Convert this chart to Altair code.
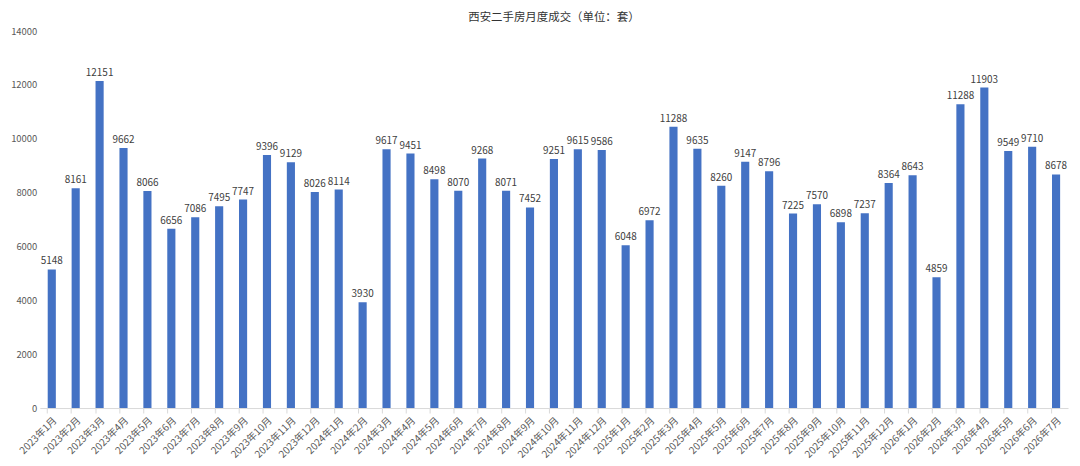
import altair as alt
import pandas as pd

months = (
    [f"2023年{m}月" for m in range(1, 13)]
    + [f"2024年{m}月" for m in range(1, 13)]
    + [f"2025年{m}月" for m in range(1, 13)]
    + [f"2026年{m}月" for m in range(1, 8)]
)
bar_values = [
    5148, 8161, 12151, 9662, 8066, 6656, 7086, 7495, 7747, 9396, 9129, 8026,
    8114, 3930, 9617, 9451, 8498, 8070, 9268, 8071, 7452, 9251, 9615, 9586,
    6048, 6972, 10450, 9635, 8260, 9147, 8796, 7225, 7570, 6898, 7237, 8364,
    8643, 4859, 11288, 11903, 9549, 9710, 8678,
]
label_texts = [
    "5148", "8161", "12151", "9662", "8066", "6656", "7086", "7495", "7747", "9396", "9129", "8026",
    "8114", "3930", "9617", "9451", "8498", "8070", "9268", "8071", "7452", "9251", "9615", "9586",
    "6048", "6972", "11288", "9635", "8260", "9147", "8796", "7225", "7570", "6898", "7237", "8364",
    "8643", "4859", "11288", "11903", "9549", "9710", "8678",
]

df = pd.DataFrame({"month": months, "value": bar_values, "label": label_texts})

FONT = "Noto Sans CJK SC"

x = alt.X(
    "month:N",
    sort=months,
    title=None,
    scale=alt.Scale(paddingInner=0.66, paddingOuter=0.33),
    axis=alt.Axis(
        labelAngle=-45,
        labelFontSize=10,
        labelColor="#595959",
        labelFont=FONT,
        domainColor="#d9d9d9",
        tickColor="#d9d9d9",
        tickSize=5,
        bandPosition=0,
        labelPadding=2,
    ),
)
y = alt.Y(
    "value:Q",
    title=None,
    scale=alt.Scale(domain=[0, 14000]),
    axis=alt.Axis(
        values=list(range(0, 14001, 2000)),
        format="d",
        grid=False,
        domain=False,
        ticks=False,
        labelFontSize=9.5,
        labelColor="#595959",
        labelFont=FONT,
        labelPadding=3,
    ),
)

bars = alt.Chart(df).mark_bar(color="#4472C4").encode(x=x, y=y)
labels = alt.Chart(df).mark_text(
    dy=-8, fontSize=10, color="#404040", font=FONT
).encode(x=alt.X("month:N", sort=months), y="value:Q", text="label:N")

chart = (
    alt.layer(bars, labels)
    .properties(
        width=1034,
        height=379,
        title=alt.TitleParams(
            "西安二手房月度成交（单位：套）",
            fontSize=11.5,
            font=FONT,
            color="#333333",
            fontWeight="normal",
            anchor="middle",
            offset=3,
        ),
        autosize=alt.AutoSizeParams(type="none"),
        padding={"left": 32, "top": 22, "right": 4, "bottom": 57},
    )
    .configure_view(stroke=None)
)

chart.save("out.html", embed_options={"renderer": "svg", "actions": False})
